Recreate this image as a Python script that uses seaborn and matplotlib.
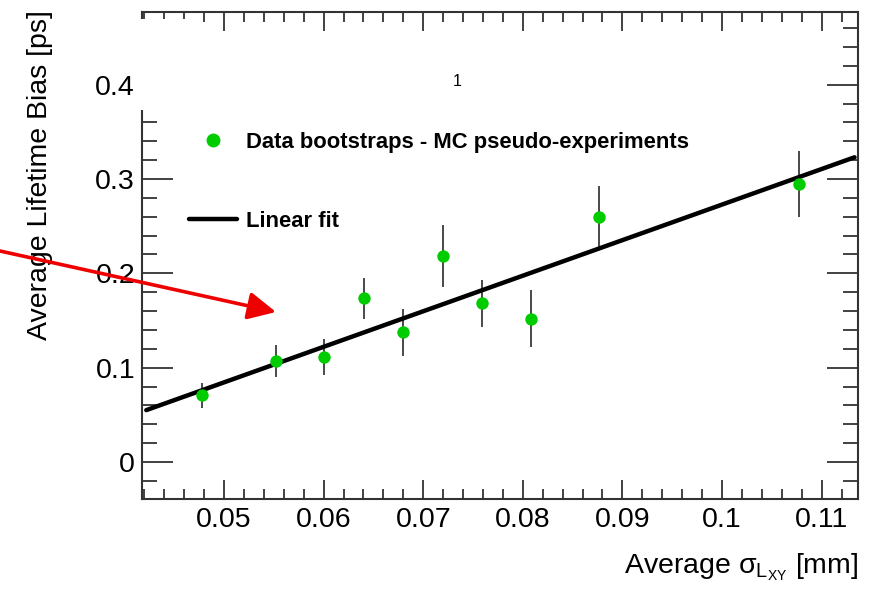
import matplotlib
matplotlib.use("Agg")
import matplotlib.pyplot as plt
import seaborn as sns
import pandas as pd
import numpy as np
from matplotlib.ticker import MultipleLocator, FixedLocator, FixedFormatter
from matplotlib.lines import Line2D
from matplotlib.patches import Rectangle, FancyArrowPatch

# ---- data ----
sigma_lxy = [0.04776, 0.05522, 0.0600, 0.06406, 0.0680, 0.0720, 0.07594, 0.08086, 0.08767, 0.10775]
bias = [0.0709, 0.1072, 0.1114, 0.1735, 0.1376, 0.2183, 0.1683, 0.1521, 0.2596, 0.2945]
bias_err = [0.0132, 0.0173, 0.0187, 0.0219, 0.0247, 0.0328, 0.0250, 0.0300, 0.0333, 0.0350]
fit_x = [0.0422, 0.1133]
fit_y = [0.055, 0.323]
x_ticks = [0.05, 0.06, 0.07, 0.08, 0.09, 0.10, 0.11]
x_labels = ["0.05", "0.06", "0.07", "0.08", "0.09", "0.1", "0.11"]
y_ticks = [0.0, 0.1, 0.2, 0.3, 0.4]
y_labels = ["0", "0.1", "0.2", "0.3", "0.4"]
legend_labels = ["Data bootstraps - MC pseudo-experiments", "Linear fit"]

df = pd.DataFrame({"x": sigma_lxy, "y": bias, "err": bias_err})
fit_df = pd.DataFrame({"x": fit_x, "y": fit_y})

sns.set_style("white")
plt.rcParams["font.family"] = ["Liberation Sans", "DejaVu Sans"]
plt.rcParams["mathtext.fontset"] = "custom"
plt.rcParams["mathtext.rm"] = "Liberation Sans"
plt.rcParams["mathtext.it"] = "Liberation Sans"
plt.rcParams["mathtext.bf"] = "Liberation Sans:bold"
plt.rcParams["text.color"] = "black"
plt.rcParams["axes.labelcolor"] = "black"
plt.rcParams["legend.labelcolor"] = "black"

W, H = 869, 589
fig = plt.figure(figsize=(W / 100, H / 100), dpi=100)
ax = fig.add_axes([142 / W, 1 - 499 / H, 716 / W, 487 / H])

green = "#00cc00"
axcol = "#333333"

ax.errorbar(df["x"], df["y"], yerr=df["err"], fmt="none", ecolor="#3a3a3a",
            elinewidth=1.3, capsize=0, zorder=2)
sns.lineplot(data=fit_df, x="x", y="y", ax=ax, color="black", linewidth=3.2,
             zorder=3, legend=False)
sns.scatterplot(data=df, x="x", y="y", ax=ax, color=green, s=80, linewidth=0,
                zorder=4, legend=False)

ax.set_xlim(0.04177, 0.11365)
ax.set_ylim(-0.0392, 0.477)

ax.xaxis.set_major_locator(FixedLocator(x_ticks))
ax.xaxis.set_major_formatter(FixedFormatter(x_labels))
ax.xaxis.set_minor_locator(MultipleLocator(0.002))
ax.yaxis.set_major_locator(FixedLocator(y_ticks))
ax.yaxis.set_major_formatter(FixedFormatter(y_labels))
ax.yaxis.set_minor_locator(MultipleLocator(0.02))

ax.tick_params(axis="both", which="both", direction="in", top=True, right=True,
               bottom=True, left=True,
               colors=axcol, labelcolor="black", width=1.3, labelsize=20.5)
ax.tick_params(axis="x", which="major", length=14, pad=6)
ax.tick_params(axis="x", which="minor", length=7)
ax.tick_params(axis="y", which="major", length=22, pad=5)
ax.tick_params(axis="y", which="minor", length=11)
for sp in ax.spines.values():
    sp.set_color(axcol)
    sp.set_linewidth(1.5)

ax.set_xlabel(r"Average $\mathrm{\sigma}_{\mathrm{L}_{\mathrm{XY}}}$ [mm]", fontsize=20.5,
              ha="right", va="baseline", color="black")
ax.xaxis.set_label_coords(1.0, (499 - 573) / 487)
ax.set_ylabel("Average Lifetime Bias [ps]", fontsize=20.5, ha="center", va="center",
              color="black")
ax.yaxis.set_label_coords((40 - 142) / 716, (499 - 175) / 487)

handles = [
    Line2D([], [], marker="o", linestyle="none", markerfacecolor=green,
           markeredgewidth=0, markersize=10),
    Line2D([], [], color="black", linewidth=3.2),
]
leg = ax.legend(handles, legend_labels, loc="upper left",
                bbox_to_anchor=(189 / W, 1 - 132 / H), bbox_transform=fig.transFigure,
                frameon=False, borderpad=0, borderaxespad=0, handlelength=2.2,
                handletextpad=0.4, labelspacing=2.65, labelcolor="black",
                prop={"family": "Liberation Sans", "weight": "bold", "size": 15.8})

# white box hiding the upper part of the left frame (as in the reference)
fig.patches.append(Rectangle((137 / W, 1 - 110 / H), 60 / W, 91 / H,
                             transform=fig.transFigure, facecolor="white",
                             edgecolor="none", zorder=5))

fig.text(457 / W, 1 - 82 / H, "1", fontsize=11.5, ha="center", va="center", color="black")

arrow = FancyArrowPatch((0 / W, 1 - 251 / H), (276 / W, 1 - 312 / H),
                        transform=fig.transFigure, arrowstyle="-|>,head_length=0.85,head_width=0.42",
                        mutation_scale=20, color="#ee0000", linewidth=2.6, zorder=10,
                        shrinkA=0, shrinkB=0)
fig.patches.append(arrow)

fig.savefig("out.png", dpi=100)
